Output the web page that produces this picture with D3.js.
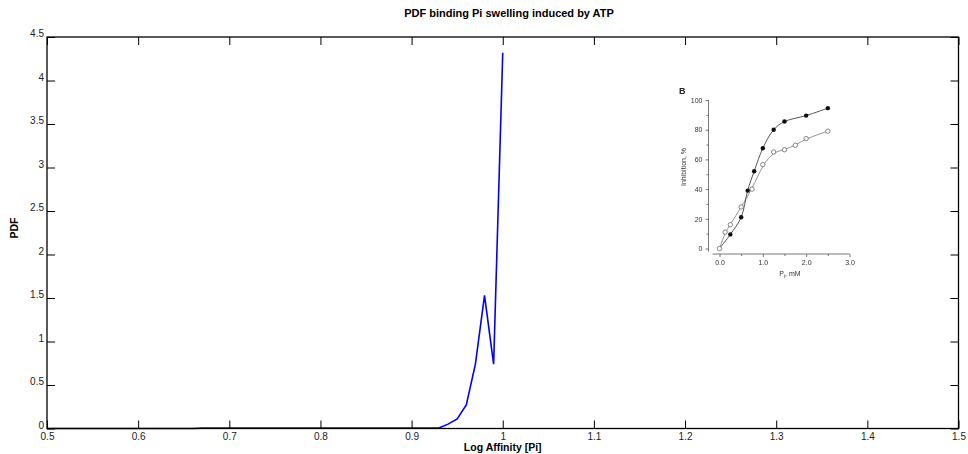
<!DOCTYPE html>
<html>
<head>
<meta charset="utf-8">
<script src="https://cdn.jsdelivr.net/npm/d3@7"></script>
<style>
  html, body { margin: 0; padding: 0; background: #fff; }
  svg { display: block; font-family: "Liberation Sans", Arial, Helvetica, sans-serif; }
</style>
</head>
<body>
<svg id="chart" width="968" height="454"></svg>
<script>
// Main PDF curve: log affinity vs probability density
const affinity = [
  0.50, 0.51, 0.52, 0.53, 0.54, 0.55, 0.56, 0.57, 0.58, 0.59,
  0.60, 0.61, 0.62, 0.63, 0.64, 0.65, 0.66, 0.67, 0.68, 0.69,
  0.70, 0.71, 0.72, 0.73, 0.74, 0.75, 0.76, 0.77, 0.78, 0.79,
  0.80, 0.81, 0.82, 0.83, 0.84, 0.85, 0.86, 0.87, 0.88, 0.89,
  0.90, 0.91, 0.92, 0.93, 0.94, 0.95, 0.96, 0.97, 0.98, 0.99, 1.00
];
const pdf = [
  0, 0, 0, 0, 0, 0, 0, 0, 0, 0,
  0, 0, 0, 0, 0, 0, 0, 0.004, 0.005, 0.005,
  0.005, 0.005, 0.005, 0.005, 0.005, 0.005, 0.005, 0.005, 0.005, 0.005,
  0.005, 0.005, 0.005, 0.005, 0.005, 0.005, 0.005, 0.005, 0.005, 0.005,
  0.005, 0.005, 0.005, 0.006, 0.05, 0.11, 0.27, 0.74, 1.53, 0.74, 4.32
];
const xTicks = [0.5, 0.6, 0.7, 0.8, 0.9, 1.0, 1.1, 1.2, 1.3, 1.4, 1.5];
const yTicks = [0, 0.5, 1, 1.5, 2, 2.5, 3, 3.5, 4, 4.5];

// Inset panel B: inhibition (%) vs Pi concentration (mM)
const piFilled = [0, 0.25, 0.5, 0.65, 0.8, 1.0, 1.25, 1.5, 2.0, 2.5];
const inhFilled = [0, 9.5, 21, 39, 52, 67.5, 80, 85.5, 89.5, 94.5];
const piOpen = [0, 0.13, 0.25, 0.5, 0.75, 1.0, 1.25, 1.5, 1.75, 2.0, 2.5];
const inhOpen = [0, 11, 16, 28, 40, 56.5, 65, 66.5, 69.5, 74, 79];
const insetXTicks = [0, 1, 2, 3];
const insetXMinor = [0.5, 1.5, 2.5];
const insetYTicks = [0, 20, 40, 60, 80, 100];
const insetYMinor = [10, 30, 50, 70, 90];

const svg = d3.select("#chart");
const M = { left: 47, right: 958.5, top: 37, bottom: 428.5 };

const x = d3.scaleLinear().domain([0.5, 1.5]).range([M.left, M.right]);
const y = d3.scaleLinear().domain([0, 4.5]).range([M.bottom, M.top]);

const fmt = d => (d === 1 ? "1" : d3.format("")(d));

// Data line
svg.append("path")
  .datum(affinity.map((a, i) => [a, pdf[i]]))
  .attr("fill", "none")
  .attr("stroke", "#0000ff")
  .attr("stroke-width", 1.6)
  .attr("stroke-linejoin", "miter")
  .attr("d", d3.line().x(d => x(d[0])).y(d => y(d[1])));

// Axes with inward ticks on all four sides
const tickLen = 8;
const bottomAxis = d3.axisBottom(x).tickValues(xTicks).tickSize(-tickLen).tickPadding(4).tickFormat(fmt);
const topAxis = d3.axisTop(x).tickValues(xTicks).tickSize(-tickLen).tickFormat("");
const leftAxis = d3.axisLeft(y).tickValues(yTicks).tickSize(-tickLen).tickPadding(3).tickFormat(fmt);
const rightAxis = d3.axisRight(y).tickValues(yTicks).tickSize(-tickLen).tickFormat("");

function style(g) {
  g.select(".domain").remove();
  g.selectAll(".tick line").attr("stroke", "#000").attr("stroke-width", 1);
  g.selectAll(".tick text").attr("fill", "#222").style("font-size", "10px");
}

svg.append("g").attr("transform", `translate(0,${M.bottom})`).call(bottomAxis).call(style);
svg.append("g").attr("transform", `translate(0,${M.top})`).call(topAxis).call(style);
svg.append("g").attr("transform", `translate(${M.left},0)`).call(leftAxis).call(style)
  .selectAll(".tick text").attr("dy", "-0.05em");
svg.append("g").attr("transform", `translate(${M.right},0)`).call(rightAxis).call(style);

// Plot frame
svg.append("rect")
  .attr("x", M.left).attr("y", M.top)
  .attr("width", M.right - M.left).attr("height", M.bottom - M.top)
  .attr("fill", "none").attr("stroke", "#000").attr("stroke-width", 1.3);

// Titles
svg.append("text")
  .attr("x", 509).attr("y", 17)
  .attr("text-anchor", "middle")
  .style("font-size", "11px").style("font-weight", "bold")
  .text("PDF binding Pi swelling induced by ATP");

svg.append("text")
  .attr("x", (M.left + M.right) / 2).attr("y", 451)
  .attr("text-anchor", "middle")
  .style("font-size", "10.5px").style("font-weight", "bold")
  .text("Log Affinity [Pi]");

svg.append("text")
  .attr("transform", `translate(18,228) rotate(-90)`)
  .attr("text-anchor", "middle")
  .style("font-size", "10.5px").style("font-weight", "bold")
  .text("PDF");

// ---- Inset panel B ----
const defs = svg.append("defs");
defs.append("filter").attr("id", "soft")
  .append("feGaussianBlur").attr("stdDeviation", 0.35);
const inset = svg.append("g").attr("filter", "url(#soft)");

const ix = d3.scaleLinear().domain([0, 3]).range([719.5, 849.5]);
const iy = d3.scaleLinear().domain([0, 100]).range([248.5, 100]);
const grey = "#555";

const ixAxis = d3.axisBottom(ix).tickValues(insetXTicks).tickSize(3).tickPadding(3).tickFormat(d3.format(".1f"));
const ixMinor = d3.axisBottom(ix).tickValues(insetXMinor).tickSize(2).tickFormat("");
const iyAxis = d3.axisLeft(iy).tickValues(insetYTicks).tickSize(3).tickPadding(3).tickFormat(d3.format("d"));
const iyMinor = d3.axisLeft(iy).tickValues(insetYMinor).tickSize(2).tickFormat("");

function insetStyle(g) {
  g.select(".domain").attr("stroke", grey).attr("stroke-width", 0.8);
  g.selectAll(".tick line").attr("stroke", grey).attr("stroke-width", 0.8);
  g.selectAll(".tick text").attr("fill", "#333").style("font-size", "7px");
}

inset.append("g").attr("transform", "translate(0,254)").call(ixAxis).call(insetStyle)
  .select(".domain").attr("d", `M${ix(0) - 7},0H${ix(3)}`);
inset.append("g").attr("transform", "translate(0,254)").call(ixMinor).call(insetStyle)
  .select(".domain").remove();
inset.append("g").attr("transform", "translate(708.5,0)").call(iyAxis).call(insetStyle)
  .select(".domain").attr("d", `M0,${iy(100)}V${iy(0) + 3}`);
inset.append("g").attr("transform", "translate(708.5,0)").call(iyMinor).call(insetStyle)
  .select(".domain").remove();

const filledPts = piFilled.map((p, i) => [p, inhFilled[i]]);
const openPts = piOpen.map((p, i) => [p, inhOpen[i]]);
const openCurve = d3.line().curve(d3.curveBasis).x(d => ix(d[0])).y(d => iy(d[1]));
const filledCurve = d3.line().curve(d3.curveCatmullRom.alpha(0.5)).x(d => ix(d[0])).y(d => iy(d[1]));

inset.append("path").datum(openPts).attr("fill", "none")
  .attr("stroke", "#777").attr("stroke-width", 0.8).attr("d", openCurve);
inset.append("path").datum(filledPts).attr("fill", "none")
  .attr("stroke", "#444").attr("stroke-width", 0.9).attr("d", filledCurve);

inset.selectAll("circle.open").data(openPts).join("circle")
  .attr("class", "open")
  .attr("cx", d => ix(d[0])).attr("cy", d => iy(d[1])).attr("r", 2.2)
  .attr("fill", "#fff").attr("stroke", "#555").attr("stroke-width", 0.7);
inset.selectAll("circle.filled").data(filledPts.slice(1)).join("circle")
  .attr("class", "filled")
  .attr("cx", d => ix(d[0])).attr("cy", d => iy(d[1])).attr("r", 2.2)
  .attr("fill", "#111");

inset.append("text").attr("x", 679).attr("y", 94)
  .style("font-size", "9px").style("font-weight", "bold").attr("fill", "#222").text("B");
inset.append("text")
  .attr("transform", "translate(686,167) rotate(-90)")
  .attr("text-anchor", "middle").style("font-size", "7px").attr("fill", "#333")
  .text("Inhibition, %");
const pl = inset.append("text").attr("x", 790).attr("y", 276)
  .attr("text-anchor", "middle").style("font-size", "7px").attr("fill", "#333");
pl.append("tspan").text("P");
pl.append("tspan").attr("dy", 1.5).style("font-size", "5px").text("i");
pl.append("tspan").attr("dy", -1.5).text(", mM");
</script>
</body>
</html>
